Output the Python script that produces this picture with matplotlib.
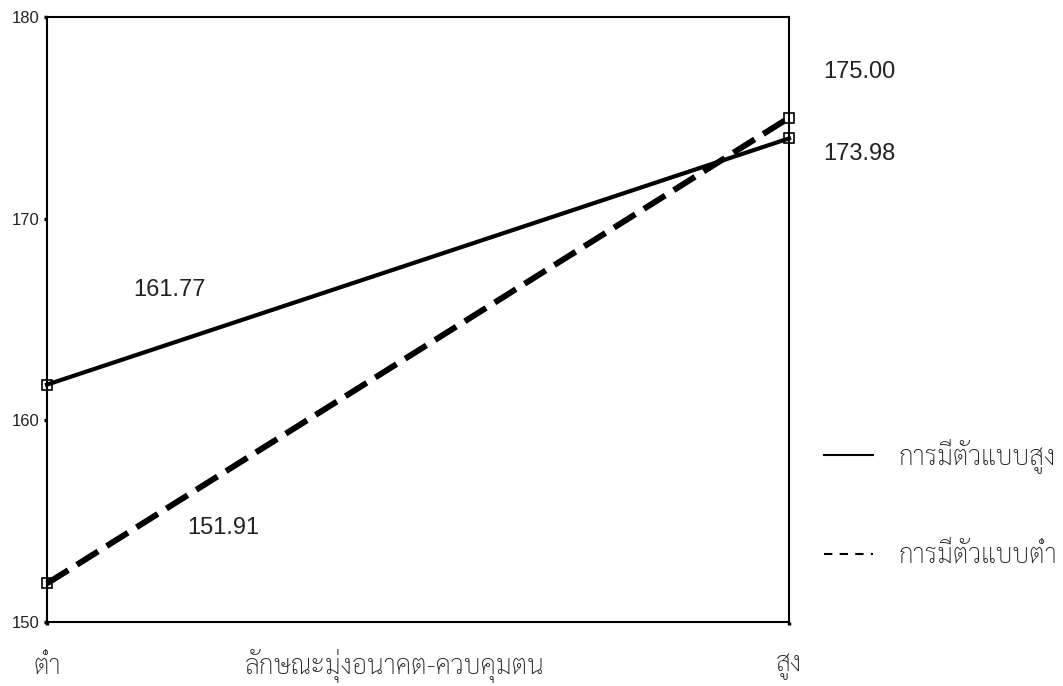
import matplotlib
matplotlib.use("Agg")
import matplotlib.pyplot as plt
from matplotlib.lines import Line2D

# data
levels = ["ต่ำ", "สูง"]
x_title = "ลักษณะมุ่งอนาคต-ควบคุมตน"
series_names = ["การมีตัวแบบสูง", "การมีตัวแบบต่ำ"]
high_model = [161.77, 173.98]
low_model = [151.91, 175.00]
y_ticks = [150, 160, 170, 180]

THAI = ["Sarabun", "DejaVu Sans"]
NUM = ["Liberation Sans", "DejaVu Sans"]
TXT = "#222222"
THAI_SIZE = 19


def main():
    fig = plt.figure(figsize=(10.63, 6.86), dpi=100)
    ax = fig.add_axes([47 / 1063, 1 - 622 / 686, 742 / 1063, 605 / 686])

    xs = [0, 1]
    ax.plot(xs, high_model, "-", color="black", lw=3.0, marker="s", ms=7.5,
            mfc="none", mec="black", mew=1.2, clip_on=False, zorder=3)
    ax.plot(xs, low_model, "--", color="black", lw=4.3, dashes=(4.2, 1.7),
            marker="s", ms=7.5, mfc="none", mec="black", mew=1.2, clip_on=False, zorder=3)

    ax.set_xlim(0, 1)
    ax.set_ylim(150, 180)
    ax.set_yticks(y_ticks)
    ax.set_yticklabels([str(v) for v in y_ticks], family=NUM, fontsize=12, color=TXT)
    ax.set_xticks(xs)
    ax.set_xticklabels(levels, family=THAI, fontsize=THAI_SIZE, weight="light", color=TXT)
    ax.tick_params(axis="y", direction="out", length=2.5, width=2.5, pad=3)
    ax.tick_params(axis="x", direction="out", length=2.5, width=2.5, pad=20)
    for s in ax.spines.values():
        s.set_linewidth(1.5)
    ax.text(0.468, -0.072, x_title, transform=ax.transAxes, ha="center", va="center",
            family=THAI, fontsize=THAI_SIZE, weight="light", color=TXT)

    # value labels
    offsets = {(1, 175.00): (24.5, 33), (1, 173.98): (24.5, -11.5),
               (0, 161.77): (62, 68), (0, 151.91): (101, 40)}
    for (x, y), off in offsets.items():
        ax.annotate(f"{y:.2f}", xy=(x, y), xytext=off, textcoords="offset points",
                    ha="left", va="center", family=NUM, fontsize=17, color=TXT,
                    annotation_clip=False)

    handles = [Line2D([], [], color="black", lw=1.5, ls="-"),
               Line2D([], [], color="black", lw=1.5, dashes=(4, 3.5))]
    fig.legend(handles, series_names, loc="center left", bbox_to_anchor=(0.753, 0.266),
               frameon=False, handlelength=1.85, handletextpad=0.95, labelspacing=2.62,
               prop={"family": THAI, "size": THAI_SIZE, "weight": "light"}, labelcolor=TXT)

    fig.savefig("out.png", dpi=100)


if __name__ == "__main__":
    main()
